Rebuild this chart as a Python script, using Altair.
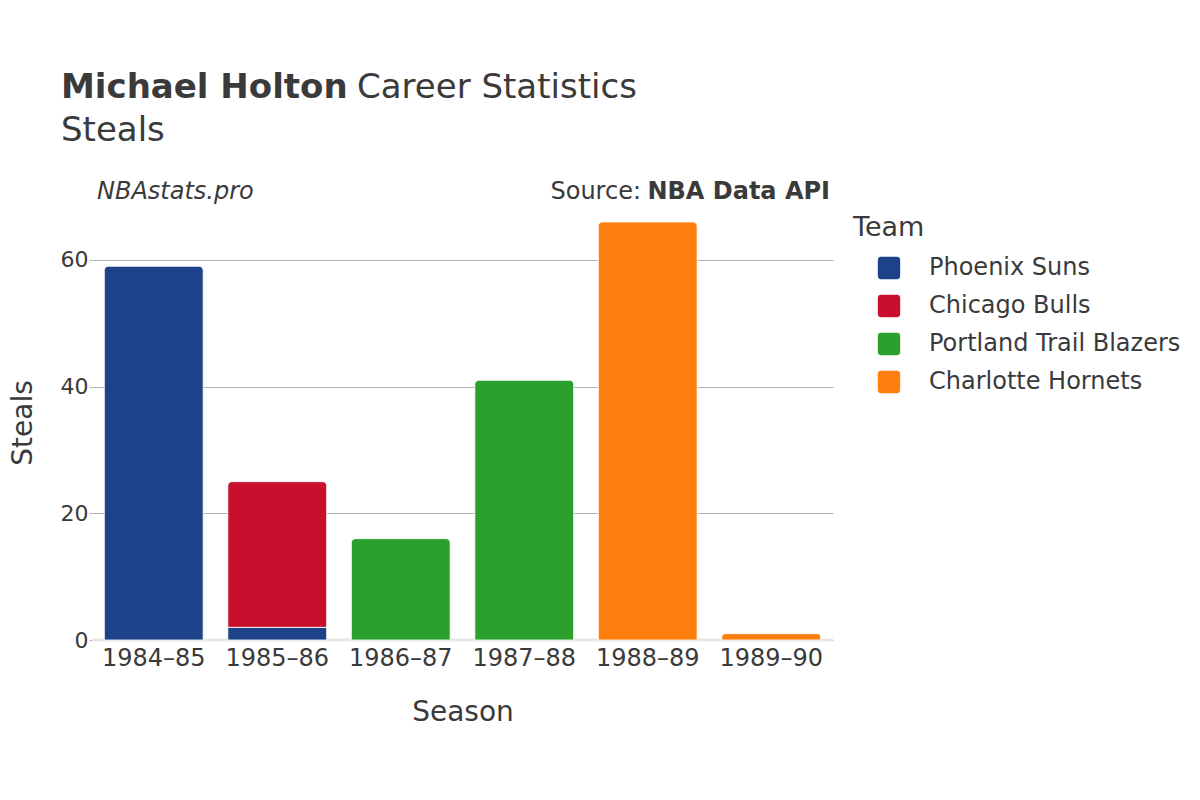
import altair as alt
import pandas as pd

# ---- data ----
seasons = ["1984–85", "1985–86", "1985–86", "1986–87", "1987–88", "1988–89", "1989–90"]
teams = ["Phoenix Suns", "Phoenix Suns", "Chicago Bulls", "Portland Trail Blazers",
         "Portland Trail Blazers", "Charlotte Hornets", "Charlotte Hornets"]
steals = [59, 2, 23, 16, 41, 66, 1]

season_order = ["1984–85", "1985–86", "1986–87", "1987–88", "1988–89", "1989–90"]
team_order = ["Phoenix Suns", "Chicago Bulls", "Portland Trail Blazers", "Charlotte Hornets"]
team_colors = ["#1d428a", "#c8102e", "#2ca02c", "#ff7f0e"]
y_ticks = [0, 20, 40, 60]

title_bold = ["Michael Holton"]
title_rest = ["Career Statistics"]
subtitle = ["Steals"]
site = ["NBAstats.pro"]
source_lbl = ["Source:"]
source_val = ["NBA Data API"]

FONT = "DejaVu Sans"
TXT = "#3a3a3a"

df = pd.DataFrame({"Season": seasons, "Team": teams, "Steals": steals})
df["ord"] = [team_order.index(t) for t in teams]

W, H = 741, 435
LEFT, TOP = 92, 205
YMAX = 68.68

base = alt.Chart(df).transform_stack(
    stack="Steals", groupby=["Season"], as_=["y0", "y1"], sort=[alt.SortField("ord")]
).transform_joinaggregate(top="max(y1)", groupby=["Season"])

xenc = alt.X("Season:N", sort=season_order,
             scale=alt.Scale(paddingInner=0.2, paddingOuter=0.1),
             axis=alt.Axis(title="Season", labelAngle=0, ticks=False, domain=False,
                           labelFontSize=24, labelColor=TXT, labelPadding=6,
                           labelFont=FONT, titleFont=FONT, titleFontSize=28,
                           titleFontWeight="normal", titleColor=TXT,
                           titleY=72, titleBaseline="middle"))
yenc = alt.Y("y1:Q", scale=alt.Scale(domain=[0, YMAX], nice=False, zero=True),
             axis=alt.Axis(title="Steals", values=y_ticks, grid=True, gridColor="#b4b4b4",
                           gridWidth=1, ticks=True, tickSize=3, tickColor="#b4b4b4",
                           domain=False, labelFontSize=22, labelColor=TXT, labelPadding=1,
                           labelFont=FONT, titleFont=FONT, titleFontSize=28,
                           titleFontWeight="normal", titleColor=TXT, titleAngle=-90,
                           titleX=23 - LEFT, titleY=H / 2, titleAlign="center",
                           titleBaseline="middle"))
cenc = alt.Color("Team:N", scale=alt.Scale(domain=team_order, range=team_colors),
                 legend=alt.Legend(title="Team", orient="none", legendX=853 - LEFT, legendY=10,
                                   titleFontSize=27, titleFont=FONT, titleColor=TXT,
                                   titleFontWeight="normal", titlePadding=14,
                                   labelFontSize=24, labelFont=FONT, labelColor=TXT,
                                   labelLimit=0, labelOffset=28, symbolOffset=24,
                                   rowPadding=14, symbolSize=500, symbolStrokeWidth=0,
                                   symbolType="M-0.7,-1L0.7,-1Q1,-1 1,-0.7L1,0.7Q1,1 0.7,1L-0.7,1Q-1,1 -1,0.7L-1,-0.7Q-1,-1 -0.7,-1Z"))

top_bars = base.transform_filter("datum.y1 == datum.top").mark_bar(
    cornerRadiusTopLeft=4, cornerRadiusTopRight=4, stroke="white", strokeWidth=0.8
).encode(x=xenc, y=yenc, y2="y0:Q", color=cenc)

low_bars = base.transform_filter("datum.y1 != datum.top").mark_bar(
    stroke="white", strokeWidth=0.8
).encode(x=xenc, y=yenc, y2="y0:Q", color=cenc)

zero_line = alt.Chart(pd.DataFrame({"z": [0]})).mark_rule(
    color="#e6e6e6", strokeWidth=3
).encode(y=alt.Y("z:Q", scale=alt.Scale(domain=[0, YMAX], nice=False)))


def txt(values, x, y, size, weight="normal", style="normal", align="left"):
    return alt.Chart(pd.DataFrame({"t": values})).mark_text(
        font=FONT, fontSize=size, fontWeight=weight, fontStyle=style, align=align,
        baseline="middle", color=TXT
    ).encode(text="t:N", x=alt.value(x - LEFT), y=alt.value(y - TOP))


texts = [
    txt(title_bold, 61, 88, 34, weight="bold"),
    txt(title_rest, 357, 88, 34),
    txt(subtitle, 61, 131, 34),
    txt(site, 97, 192, 24, style="italic"),
    txt(source_lbl, 641, 192, 24, align="right"),
    txt(source_val, 830, 192, 24, weight="bold", align="right"),
]

chart = alt.layer(zero_line, low_bars, top_bars, *texts).properties(
    width=W, height=H, background="white",
    autosize=alt.AutoSizeParams(type="none"),
    padding={"left": LEFT - 8, "top": TOP - 8, "right": 1192 - LEFT - W, "bottom": 792 - TOP - H},
).configure_view(stroke=None, strokeWidth=0)

chart.save("out.html", embed_options={"renderer": "svg", "actions": False})
